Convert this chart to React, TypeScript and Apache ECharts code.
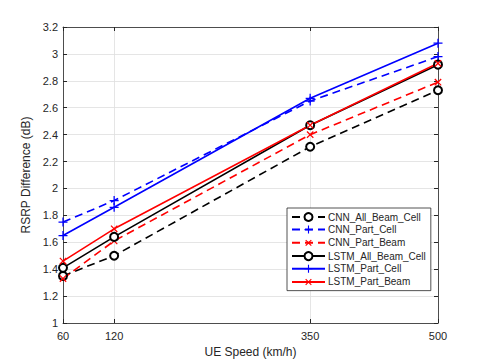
import React, { useEffect, useRef } from "react";
import * as echarts from "echarts";

const speeds = [60, 120, 350, 500];
const xTicks = [60, 120, 350, 500];

const cnnAllBeamCell = [1.35, 1.5, 2.31, 2.73];
const cnnPartCell = [1.75, 1.91, 2.65, 2.98];
const cnnPartBeam = [1.33, 1.61, 2.4, 2.79];
const lstmAllBeamCell = [1.41, 1.64, 2.47, 2.92];
const lstmPartCell = [1.65, 1.86, 2.67, 3.08];
const lstmPartBeam = [1.46, 1.7, 2.47, 2.93];

const seriesNames = [
  "CNN_All_Beam_Cell",
  "CNN_Part_Cell",
  "CNN_Part_Beam",
  "LSTM_All_Beam_Cell",
  "LSTM_Part_Cell",
  "LSTM_Part_Beam",
];

const PLUS = "path://M4.3,0H5.7V4.3H10V5.7H5.7V10H4.3V5.7H0V4.3H4.3Z";
const FONT = "Liberation Sans";
const AXC = "#262626";

export default function App() {
  const ref = useRef<HTMLDivElement>(null);
  useEffect(() => {
    if (!ref.current) return;
    const chart = echarts.init(ref.current, undefined, { renderer: "svg" });
    const mk = (
      name: string,
      vals: number[],
      color: string,
      dashed: boolean,
      kind: "o" | "+" | "x"
    ) => ({
      name,
      type: "line",
      data: speeds.map((s, i) => [s, vals[i]]),
      symbol: kind === "o" ? "emptyCircle" : PLUS,
      symbolSize: kind === "o" ? 8 : 9,
      symbolRotate: kind === "x" ? 45 : 0,
      symbolKeepAspect: true,
      showAllSymbol: true,
      lineStyle: { color, width: 1.6, type: dashed ? [8, 5] : "solid" },
      itemStyle: {
        color,
        borderColor: color,
        borderWidth: kind === "o" ? 1.6 : 0,
      },
      emphasis: { disabled: true },
    });
    chart.setOption({
      animation: false,
      backgroundColor: "#fff",
      textStyle: { fontFamily: FONT },
      grid: { left: 63, right: 47, top: 27, bottom: 40, containLabel: false },
      legend: {
        orient: "vertical",
        left: 287,
        top: 208,
        padding: [4, 5, 3, 4],
        itemGap: 2.6,
        itemWidth: 33,
        itemHeight: 10,
        backgroundColor: "#fff",
        borderColor: AXC,
        borderWidth: 0.8,
        borderRadius: 0,
        textStyle: { fontFamily: FONT, fontSize: 10, color: AXC, padding: [0, 0, 0, -2] },
        data: seriesNames,
      },
      xAxis: [
        {
          type: "value",
          min: 60,
          max: 500,
          name: "UE Speed (km/h)",
          nameLocation: "middle",
          nameGap: 22,
          nameTextStyle: { fontFamily: FONT, fontSize: 12, color: AXC },
          axisLine: { show: true, onZero: false, lineStyle: { color: AXC, width: 0.8 } },
          axisTick: { show: true, inside: true, length: 4, customValues: xTicks, lineStyle: { color: AXC } },
          axisLabel: { customValues: xTicks, fontFamily: FONT, fontSize: 11, color: AXC, margin: 7 },
          splitLine: { show: true, lineStyle: { color: "#dedede", width: 0.8 } },
        },
        {
          type: "value",
          position: "top",
          min: 60,
          max: 500,
          axisLine: { show: true, onZero: false, lineStyle: { color: AXC, width: 0.8 } },
          axisTick: { show: true, inside: true, length: 4, customValues: xTicks, lineStyle: { color: AXC } },
          axisLabel: { show: false },
          splitLine: { show: false },
        },
      ],
      yAxis: [
        {
          type: "value",
          min: 1,
          max: 3.2,
          interval: 0.2,
          name: "RSRP Difference (dB)",
          nameLocation: "middle",
          nameGap: 24,
          nameTextStyle: { fontFamily: FONT, fontSize: 12, color: AXC },
          axisLine: { show: true, onZero: false, lineStyle: { color: AXC, width: 0.8 } },
          axisTick: { show: true, inside: true, length: 4, lineStyle: { color: AXC } },
          axisLabel: { fontFamily: FONT, fontSize: 11, color: AXC, margin: 5 },
          splitLine: { show: true, lineStyle: { color: "#dedede", width: 0.8 } },
        },
        {
          type: "value",
          position: "right",
          min: 1,
          max: 3.2,
          interval: 0.2,
          axisLine: { show: true, onZero: false, lineStyle: { color: AXC, width: 0.8 } },
          axisTick: { show: true, inside: true, length: 4, lineStyle: { color: AXC } },
          axisLabel: { show: false },
          splitLine: { show: false },
        },
      ],
      series: [
        mk(seriesNames[0], cnnAllBeamCell, "#000000", true, "o"),
        mk(seriesNames[1], cnnPartCell, "#0000ff", true, "+"),
        mk(seriesNames[2], cnnPartBeam, "#ff0000", true, "x"),
        mk(seriesNames[3], lstmAllBeamCell, "#000000", false, "o"),
        mk(seriesNames[4], lstmPartCell, "#0000ff", false, "+"),
        mk(seriesNames[5], lstmPartBeam, "#ff0000", false, "x"),
      ],
    });
    return () => chart.dispose();
  }, []);
  return (
    <div
      ref={ref}
      style={{ position: "fixed", left: 0, top: 0, width: 485, height: 363, background: "#fff" }}
    />
  );
}
